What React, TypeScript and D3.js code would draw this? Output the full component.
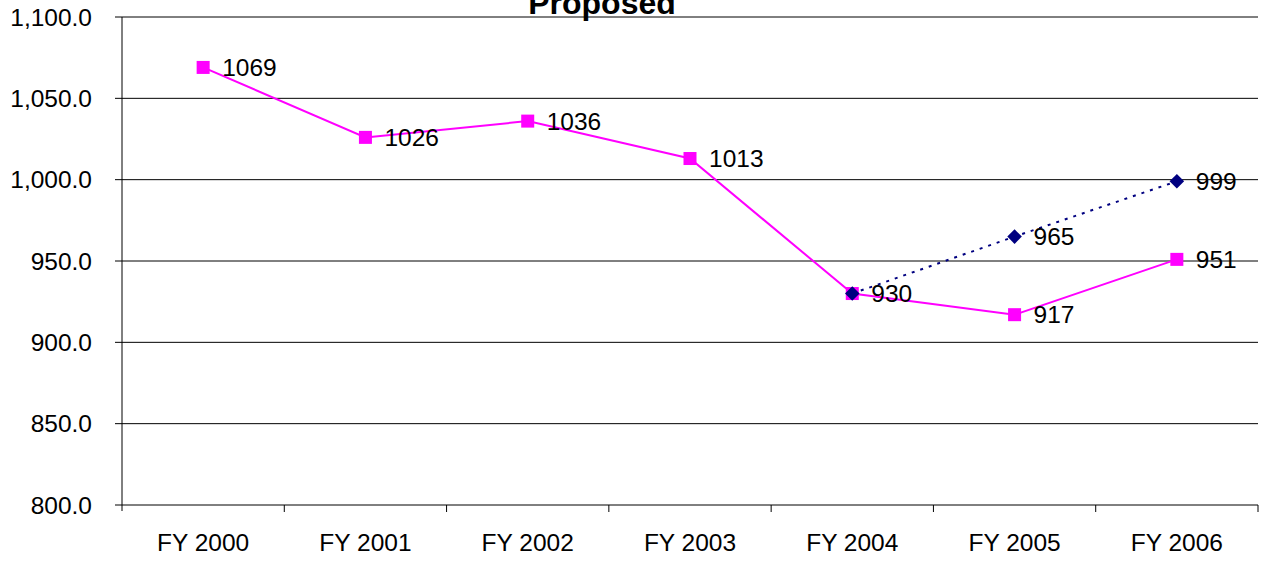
import React from "react";
import * as d3 from "d3";

const years = ["FY 2000", "FY 2001", "FY 2002", "FY 2003", "FY 2004", "FY 2005", "FY 2006"];
const actual = [1069, 1026, 1036, 1013, 930, 917, 951];
const proposedYears = ["FY 2004", "FY 2005", "FY 2006"];
const proposed = [930, 965, 999];
const yTicks = [800, 850, 900, 950, 1000, 1050, 1100];

const W = 1261;
const H = 561;
const margin = { top: 17, right: 3, bottom: 56, left: 122 };
const font = "'Liberation Sans', Arial, sans-serif";
const fs = 24.5;

const App = () => {
  const x = d3
    .scaleBand()
    .domain(years)
    .range([margin.left, W - margin.right]);
  const y = d3
    .scaleLinear()
    .domain([800, 1100])
    .range([H - margin.bottom, margin.top]);
  const cx = (d: string) => (x(d) as number) + x.bandwidth() / 2;

  const pinkLine = d3
    .line<number>()
    .x((d, i) => cx(years[i]))
    .y(d => y(d));
  const navyLine = d3
    .line<number>()
    .x((d, i) => cx(proposedYears[i]))
    .y(d => y(d));

  const bottom = H - margin.bottom;
  const diamond = d3.symbol().type(d3.symbolDiamond2).size(135)();

  return (
    <svg width={W} height={H} style={{ position: "absolute", left: 0, top: 0 }} fontFamily={font}>
      <rect width={W} height={H} fill="#fff" />
      {/* grid lines */}
      {yTicks.map(t => (
        <g key={t}>
          <line x1={margin.left - 7} x2={W - margin.right} y1={y(t)} y2={y(t)} stroke="#000" strokeWidth={1} />
          <text x={92} y={y(t)} dy="0.35em" textAnchor="end" fontSize={fs}>
            {d3.format(",.1f")(t)}
          </text>
        </g>
      ))}
      {/* axes */}
      <line x1={margin.left} x2={margin.left} y1={margin.top} y2={bottom + 6} stroke="#000" />
      {years.map((d, i) => (
        <g key={d}>
          <line
            x1={(x(d) as number) + x.bandwidth()}
            x2={(x(d) as number) + x.bandwidth()}
            y1={bottom}
            y2={bottom + 7}
            stroke="#000"
          />
          <text x={cx(d)} y={551} textAnchor="middle" fontSize={fs}>
            {d}
          </text>
        </g>
      ))}

      {/* actual series */}
      <path d={pinkLine(actual) || ""} fill="none" stroke="#FF00FF" strokeWidth={2} />
      {actual.map((v, i) => (
        <rect key={i} x={cx(years[i]) - 6.5} y={y(v) - 6.5} width={13} height={13} fill="#FF00FF" />
      ))}

      {/* proposed series */}
      <path
        d={navyLine(proposed) || ""}
        fill="none"
        stroke="#000080"
        strokeWidth={2}
        strokeDasharray="3,6"
      />
      {proposed.map((v, i) => (
        <path key={i} d={diamond || ""} transform={`translate(${cx(proposedYears[i])},${y(v)})`} fill="#000080" />
      ))}

      {/* labels */}
      {actual.map((v, i) => (
        <text key={"a" + i} x={cx(years[i]) + 19} y={y(v)} dy="0.35em" fontSize={fs}>
          {v}
        </text>
      ))}
      {proposed.slice(1).map((v, i) => (
        <text key={"p" + i} x={cx(proposedYears[i + 1]) + 19} y={y(v)} dy="0.35em" fontSize={fs}>
          {v}
        </text>
      ))}

      <text x={602} y={14} textAnchor="middle" fontSize={32} fontWeight="bold">
        Proposed
      </text>
    </svg>
  );
};

export default App;
